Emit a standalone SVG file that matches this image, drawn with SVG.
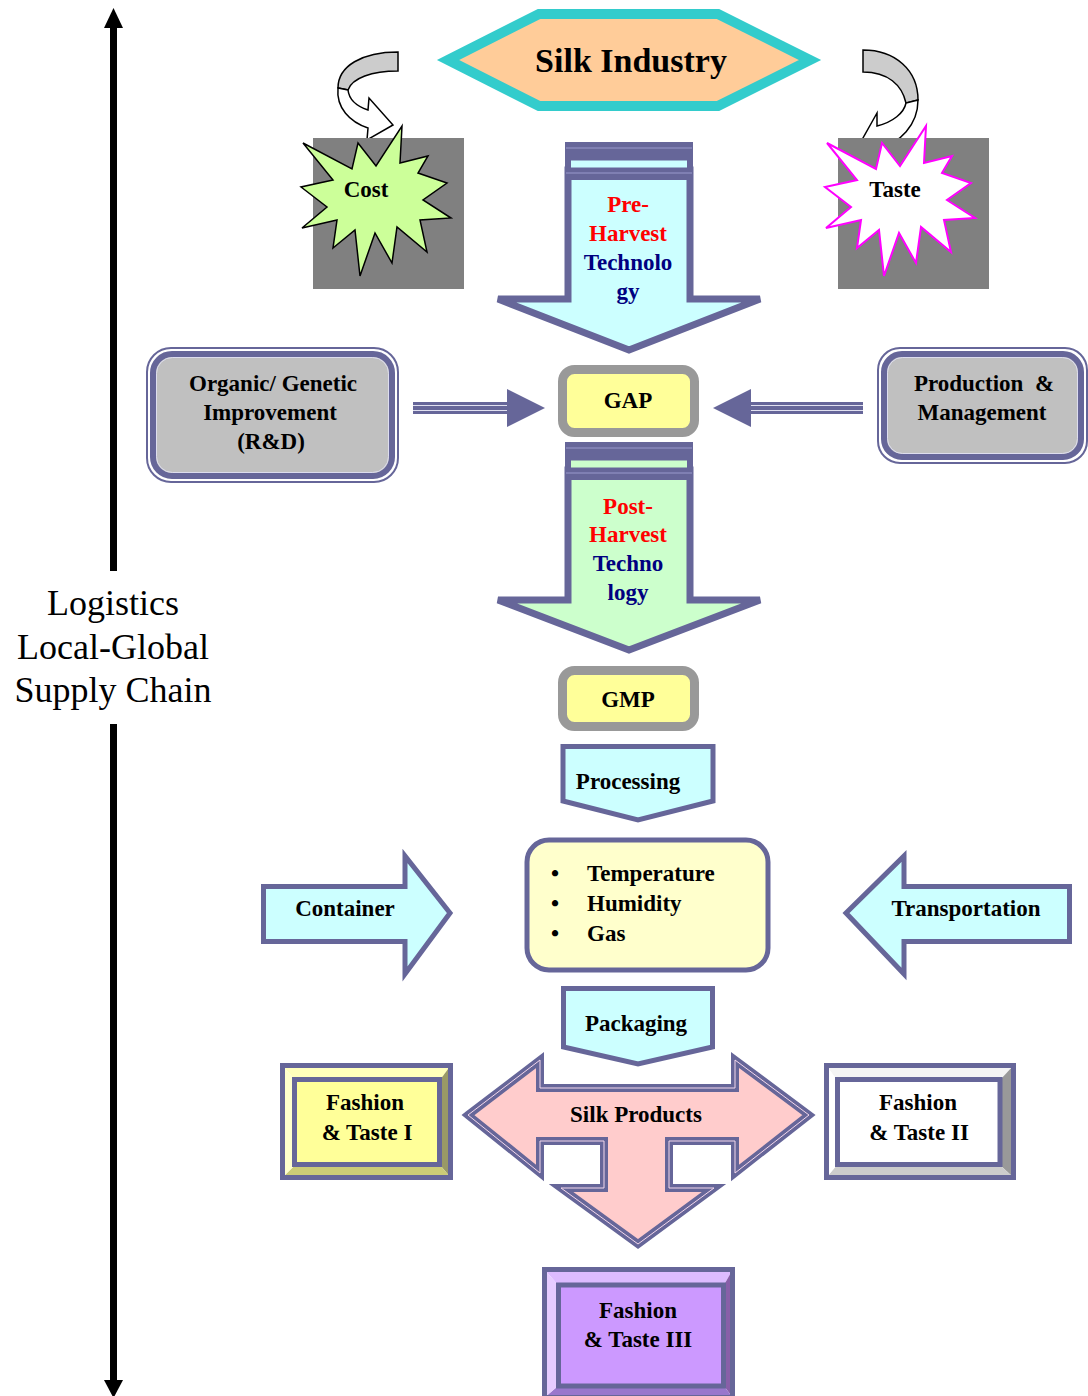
<svg xmlns="http://www.w3.org/2000/svg" width="1088" height="1396" viewBox="0 0 1088 1396">
<style>
.t{font-family:"Liberation Serif","Times New Roman",serif;font-weight:bold;font-size:23px;text-anchor:middle;fill:#000}
.red{fill:#FF0000}
.navy{fill:#000080}
.lg{font-family:"Liberation Serif","Times New Roman",serif;font-size:36px;text-anchor:middle;fill:#000}
.ol{stroke:#666699;fill:none}
.bw{stroke:#666699;stroke-width:5}
</style>
<defs>
<polygon id="star" points="303,143 352,169 358,143 376,166 402,126 400,163 428,156 418,173 447,183 423,200 451,218 420,220 427,252 397,227 392,263 375,233 360,276 355,230 333,248 337,220 302,228 327,207 301,187 333,180"/>
</defs>
<rect width="1088" height="1396" fill="#fff"/>

<g id="connectors">
  <!-- vertical logistics arrow -->
  <rect x="110" y="26" width="7" height="545" fill="#000"/>
  <polygon points="113.5,8 123,28 104,28" fill="#000"/>
  <rect x="110" y="724" width="7" height="658" fill="#000"/>
  <polygon points="113.5,1398 123,1380 104,1380" fill="#000"/>
  <!-- curved arrow to Cost -->
  <path d="M398,52 C362,52 338,66 338,88 L348,90 C352,78 372,71 398,71 Z" fill="#CCCCCC" stroke="#000" stroke-width="1.5"/>
  <path d="M338,88 C336,108 350,122 368,128 L367,140 L393,125 L369,98 L368,110 C356,106 349,99 348,90 Z" fill="#fff" stroke="#000" stroke-width="1.5"/>
  <!-- curved arrow to Taste -->
  <path d="M863,50 C895,50 918,70 918,100 L906,103 C902,85 888,72 863,72 Z" fill="#CCCCCC" stroke="#000" stroke-width="1.5"/>
  <path d="M918,100 C918,125 900,143 877,150 L877,162 L863,138 L877,113 L877,126 C893,122 904,113 906,103 Z" fill="#fff" stroke="#000" stroke-width="1.5"/>
  <!-- Organic -> GAP -->
  <rect x="413" y="402" width="96" height="12" fill="#666699"/>
  <line x1="413" y1="405.5" x2="509" y2="405.5" stroke="#E0E0F0" stroke-width="1"/>
  <line x1="413" y1="410.5" x2="509" y2="410.5" stroke="#E0E0F0" stroke-width="1"/>
  <polygon points="507,389 545,408 507,427" fill="#666699"/>
  <!-- Production -> GAP -->
  <rect x="749" y="402" width="114" height="12" fill="#666699"/>
  <line x1="749" y1="405.5" x2="863" y2="405.5" stroke="#E0E0F0" stroke-width="1"/>
  <line x1="749" y1="410.5" x2="863" y2="410.5" stroke="#E0E0F0" stroke-width="1"/>
  <polygon points="713,408 751,389 751,427" fill="#666699"/>
</g>

<g id="logistics">
  <text class="lg" x="113" y="615">Logistics</text>
  <text class="lg" x="113" y="659">Local-Global</text>
  <text class="lg" x="113" y="702">Supply Chain</text>
</g>

<g id="silk-industry">
  <polygon points="448,60 539,14 718,14 810,60 718,106 539,106" fill="#FFCC99" stroke="#33CCCC" stroke-width="10" stroke-linejoin="miter"/>
  <text class="t" x="631" y="72" style="font-size:34px">Silk Industry</text>
</g>

<g id="cost">
  <rect x="313" y="138" width="151" height="151" fill="#808080"/>
  <use href="#star" fill="#CCFF99" stroke="#000" stroke-width="1.5"/>
  <text class="t" x="366" y="197">Cost</text>
</g>

<g id="taste">
  <rect x="838" y="138" width="151" height="151" fill="#808080"/>
  <use href="#star" transform="translate(524,0)" fill="#fff" stroke="#FF00FF" stroke-width="2"/>
  <text class="t" x="895" y="197">Taste</text>
</g>

<g id="pre-harvest">
  <polygon points="568,170 690,170 690,299 760,299 629,350 498,299 568,299" fill="#CCFFFF" stroke="#666699" stroke-width="7"/>
  <rect x="565" y="142" width="128" height="38" fill="#666699"/>
  <rect x="571" y="160.5" width="116" height="7" fill="#CCFFFF"/>
  <line x1="566" y1="148" x2="692" y2="148" stroke="#9999CC" stroke-width="1"/>
  <line x1="566" y1="173" x2="692" y2="173" stroke="#9999CC" stroke-width="1"/>
  <text class="t red" x="628" y="212">Pre-</text>
  <text class="t red" x="628" y="241">Harvest</text>
  <text class="t navy" x="628" y="270">Technolo</text>
  <text class="t navy" x="628" y="299">gy</text>
</g>

<g id="organic">
  <rect x="147" y="348" width="251" height="134" rx="24" fill="none" stroke="#666699" stroke-width="2"/>
  <rect x="153" y="354" width="239" height="122" rx="19" fill="#C0C0C0" stroke="#666699" stroke-width="6"/>
  <rect x="156.5" y="357.5" width="232" height="115" rx="16" fill="none" stroke="#DDDDEE" stroke-width="1"/>
  <text class="t" x="273" y="391">Organic/ Genetic</text>
  <text class="t" x="270" y="420">Improvement</text>
  <text class="t" x="271" y="449">(R&amp;D)</text>
</g>

<g id="gap">
  <rect x="562.5" y="369.5" width="132" height="63" rx="12" fill="#FFFF99" stroke="#999999" stroke-width="9"/>
  <text class="t" x="628" y="408">GAP</text>
</g>

<g id="production">
  <rect x="878" y="348" width="209" height="115" rx="22" fill="none" stroke="#666699" stroke-width="2"/>
  <rect x="884" y="354" width="197" height="103" rx="18" fill="#C0C0C0" stroke="#666699" stroke-width="6"/>
  <rect x="887.5" y="357.5" width="190" height="96" rx="15" fill="none" stroke="#DDDDEE" stroke-width="1"/>
  <text class="t" x="984" y="391" style="white-space:pre">Production  &amp;</text>
  <text class="t" x="982" y="420">Management</text>
</g>

<g id="post-harvest">
  <polygon points="568,470 690,470 690,600 760,600 629,650 498,600 568,600" fill="#CCFFCC" stroke="#666699" stroke-width="7"/>
  <rect x="565" y="442" width="128" height="38" fill="#666699"/>
  <rect x="571" y="460.5" width="116" height="7" fill="#CCFFCC"/>
  <line x1="566" y1="448" x2="692" y2="448" stroke="#9999CC" stroke-width="1"/>
  <line x1="566" y1="473" x2="692" y2="473" stroke="#9999CC" stroke-width="1"/>
  <text class="t red" x="628" y="514">Post-</text>
  <text class="t red" x="628" y="542">Harvest</text>
  <text class="t navy" x="628" y="571">Techno</text>
  <text class="t navy" x="628" y="600">logy</text>
</g>

<g id="gmp">
  <rect x="562.5" y="670.5" width="132" height="56" rx="12" fill="#FFFF99" stroke="#999999" stroke-width="9"/>
  <text class="t" x="628" y="707">GMP</text>
</g>

<g id="processing">
  <polygon points="563,746.5 713,746.5 713,801 638,820 563,801" fill="#CCFFFF" class="bw"/>
  <text class="t" x="628" y="789">Processing</text>
</g>

<g id="conditions">
  <rect x="527" y="840" width="241" height="130" rx="22" fill="#FFFFCC" class="bw"/>
  <text class="t" x="555" y="881">•</text>
  <text class="t" x="555" y="911">•</text>
  <text class="t" x="555" y="941">•</text>
  <text class="t" x="587" y="881" style="text-anchor:start">Temperature</text>
  <text class="t" x="587" y="911" style="text-anchor:start">Humidity</text>
  <text class="t" x="587" y="941" style="text-anchor:start">Gas</text>
</g>

<g id="container">
  <polygon points="263.5,886.5 405,886.5 405,856 450,913 405,974 405,941.5 263.5,941.5" fill="#CCFFFF" class="bw"/>
  <text class="t" x="345" y="916">Container</text>
</g>

<g id="transportation">
  <polygon points="846,913 904,856 904,886.5 1069.5,886.5 1069.5,941.5 904,941.5 904,974" fill="#CCFFFF" class="bw"/>
  <text class="t" x="966" y="916">Transportation</text>
</g>

<g id="packaging">
  <polygon points="563.5,988.5 712.5,988.5 712.5,1047 638,1064 563.5,1047" fill="#CCFFFF" class="bw"/>
  <text class="t" x="636" y="1031">Packaging</text>
</g>

<g id="silk-products">
  <polygon points="468,1115 540,1060 540,1088 735,1088 735,1060 809,1115 735,1173 735,1141 669,1141 669,1188 714,1188 638,1244 561,1188 604,1188 604,1141 540,1141 540,1173" fill="#FFCCCC" stroke="#666699" stroke-width="8"/>
  <polygon points="468,1115 540,1060 540,1088 735,1088 735,1060 809,1115 735,1173 735,1141 669,1141 669,1188 714,1188 638,1244 561,1188 604,1188 604,1141 540,1141 540,1173" fill="none" stroke="#F4D8EC" stroke-width="1"/>
  <text class="t" x="636" y="1122">Silk Products</text>
</g>

<g id="fashion-taste-1">
  <polygon points="282,1065 451,1065 440,1080 295,1080" fill="#FFFFBB"/>
  <polygon points="451,1065 451,1178 440,1165 440,1080" fill="#999966"/>
  <polygon points="451,1178 282,1178 295,1165 440,1165" fill="#CCCC77"/>
  <polygon points="282,1178 282,1065 295,1080 295,1165" fill="#FFFFCC"/>
  <rect x="282.5" y="1065.5" width="168" height="112" fill="none" class="bw"/>
  <rect x="294.5" y="1079.5" width="145" height="85" fill="#FFFF99" class="bw"/>
  <text class="t" x="365" y="1110">Fashion</text>
  <text class="t" x="367" y="1140">&amp; Taste I</text>
</g>

<g id="fashion-taste-2">
  <polygon points="826,1065 1014,1065 1000,1080 837,1080" fill="#F4F4F4"/>
  <polygon points="1014,1065 1014,1178 1000,1165 1000,1080" fill="#999999"/>
  <polygon points="1014,1178 826,1178 837,1165 1000,1165" fill="#CCCCCC"/>
  <polygon points="826,1178 826,1065 837,1080 837,1165" fill="#FFFFFF"/>
  <rect x="826.5" y="1065.5" width="187" height="112" fill="none" class="bw"/>
  <rect x="837.5" y="1079.5" width="162.5" height="85" fill="#FFFFFF" class="bw"/>
  <text class="t" x="918" y="1110">Fashion</text>
  <text class="t" x="919" y="1140">&amp; Taste II</text>
</g>

<g id="fashion-taste-3">
  <polygon points="544,1269 733,1269 724,1285 558,1285" fill="#DDBBFF"/>
  <polygon points="733,1269 733,1398 724,1386 724,1285" fill="#885FA8"/>
  <polygon points="733,1398 544,1398 558,1386 724,1386" fill="#9977CC"/>
  <polygon points="544,1398 544,1269 558,1285 558,1386" fill="#E6CCFF"/>
  <rect x="544.5" y="1269.5" width="188" height="128" fill="none" class="bw"/>
  <rect x="558.5" y="1285" width="165" height="101" fill="#CC99FF" class="bw"/>
  <text class="t" x="638" y="1318">Fashion</text>
  <text class="t" x="638" y="1347">&amp; Taste III</text>
</g>
</svg>
